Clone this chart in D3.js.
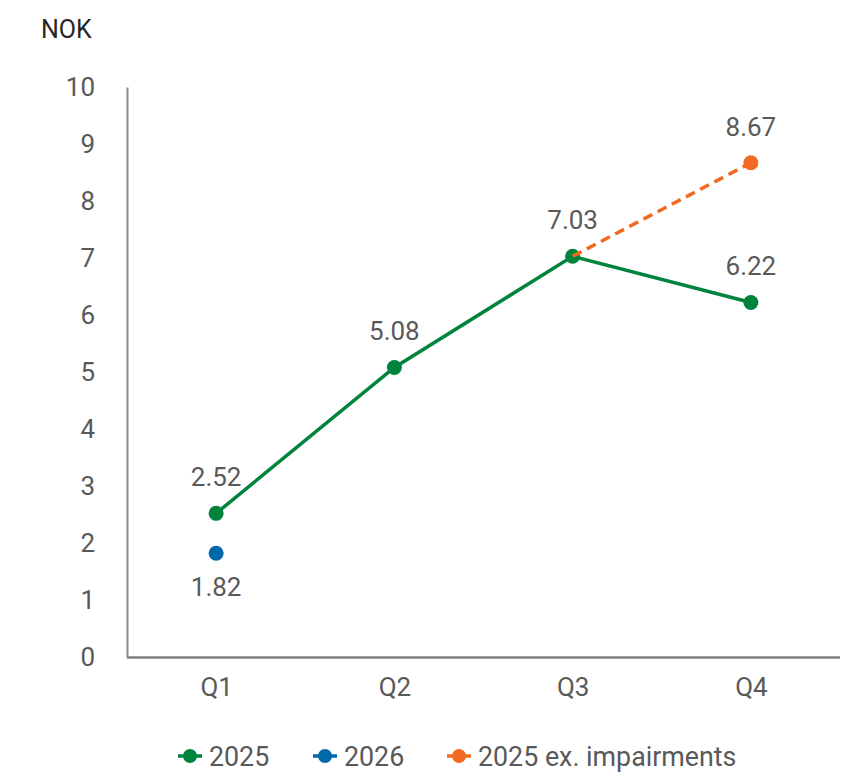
<!DOCTYPE html>
<html>
<head>
<meta charset="utf-8">
<script src="https://cdn.jsdelivr.net/npm/d3@7"></script>
<style>
  html, body { margin: 0; padding: 0; background: #fff; }
  svg { display: block; font-family: Roboto, "Noto Sans", sans-serif; }
</style>
</head>
<body>
<svg id="chart" width="855" height="772"></svg>
<script>
// Quarterly earnings per share, NOK
const quarters = ["Q1", "Q2", "Q3", "Q4"];
const values2025 = [2.52, 5.08, 7.03, 6.22];
const values2026 = [1.82, null, null, null];
const valuesExImpairments = [null, null, 7.03, 8.67];
const yTicks = [0, 1, 2, 3, 4, 5, 6, 7, 8, 9, 10];

const colors = { g2025: "#00843d", g2026: "#0067a8", exImp: "#f26a21" };
const textColor = "#595959";
const fontSize = 26;

const svg = d3.select("#chart");
const plotLeft = 127, plotRight = 840, plotTop = 87, plotBottom = 657;

const x = d3.scalePoint().domain(quarters).range([plotLeft, plotRight]).padding(0.5);
const y = d3.scaleLinear().domain([0, 10]).range([plotBottom, plotTop]);

// Unit title
svg.append("text").attr("x", 41).attr("y", 38)
  .attr("font-size", 25).attr("fill", "#262626").text("NOK");

// Y axis
const yAxis = svg.append("g").attr("transform", `translate(${plotLeft},0)`)
  .call(d3.axisLeft(y).tickValues(yTicks).tickSize(0).tickPadding(32));
yAxis.select(".domain").attr("stroke", "#8c8c8c").attr("stroke-width", 2);
yAxis.selectAll("text").attr("font-size", fontSize).attr("fill", textColor)
  .attr("font-family", "Roboto, sans-serif");

// X axis
const xAxis = svg.append("g").attr("transform", `translate(0,${plotBottom})`)
  .call(d3.axisBottom(x).tickSize(0).tickPadding(21));
xAxis.select(".domain").attr("d", `M${plotLeft},0.5H${plotRight}`)
  .attr("stroke", "#7f7f7f").attr("stroke-width", 2.5);
xAxis.selectAll("text").attr("font-size", fontSize).attr("fill", textColor)
  .attr("font-family", "Roboto, sans-serif");

const line = d3.line()
  .defined(d => d.v != null)
  .x(d => x(d.q)).y(d => y(d.v));

function pts(arr) { return quarters.map((q, i) => ({ q, v: arr[i] })); }

// 2025 series
svg.append("path").datum(pts(values2025)).attr("d", line)
  .attr("fill", "none").attr("stroke", colors.g2025).attr("stroke-width", 3.5);
svg.selectAll(".p2025").data(pts(values2025)).join("circle")
  .attr("cx", d => x(d.q)).attr("cy", d => y(d.v)).attr("r", 7.5)
  .attr("fill", colors.g2025);

// 2025 excluding impairments (dashed)
svg.append("path").datum(pts(valuesExImpairments)).attr("d", line)
  .attr("fill", "none").attr("stroke", colors.exImp).attr("stroke-width", 3.5)
  .attr("stroke-dasharray", "10,6");
svg.selectAll(".pex").data(pts(valuesExImpairments).filter(d => d.q === "Q4")).join("circle")
  .attr("cx", d => x(d.q)).attr("cy", d => y(d.v)).attr("r", 7.5)
  .attr("fill", colors.exImp);

// 2026 series
svg.selectAll(".p2026").data(pts(values2026).filter(d => d.v != null)).join("circle")
  .attr("cx", d => x(d.q)).attr("cy", d => y(d.v)).attr("r", 7.5)
  .attr("fill", colors.g2026);

// Value labels
const fmt = d3.format(".2f");
const labels = [];
pts(values2025).forEach(d => labels.push({ q: d.q, v: d.v, dy: -27 }));
pts(valuesExImpairments).filter(d => d.q === "Q4").forEach(d => labels.push({ q: d.q, v: d.v, dy: -27 }));
pts(values2026).filter(d => d.v != null).forEach(d => labels.push({ q: d.q, v: d.v, dy: 43 }));
svg.selectAll(".lbl").data(labels).join("text")
  .attr("x", d => x(d.q)).attr("y", d => y(d.v) + d.dy)
  .attr("text-anchor", "middle").attr("font-size", fontSize).attr("fill", textColor)
  .text(d => fmt(d.v));

// Legend
const legendItems = [
  { label: "2025", color: colors.g2025, cx: 190 },
  { label: "2026", color: colors.g2026, cx: 325 },
  { label: "2025 ex. impairments", color: colors.exImp, cx: 459 }
];
const lg = svg.append("g").attr("transform", "translate(0,756)");
legendItems.forEach(it => {
  lg.append("line").attr("x1", it.cx - 12).attr("x2", it.cx + 12).attr("y1", 0).attr("y2", 0)
    .attr("stroke", it.color).attr("stroke-width", 3.5);
  lg.append("circle").attr("cx", it.cx).attr("cy", 0).attr("r", 7).attr("fill", it.color);
  lg.append("text").attr("x", it.cx + 19).attr("y", 9.5).attr("font-size", 26.8)
    .attr("fill", textColor).text(it.label);
});
</script>
</body>
</html>
